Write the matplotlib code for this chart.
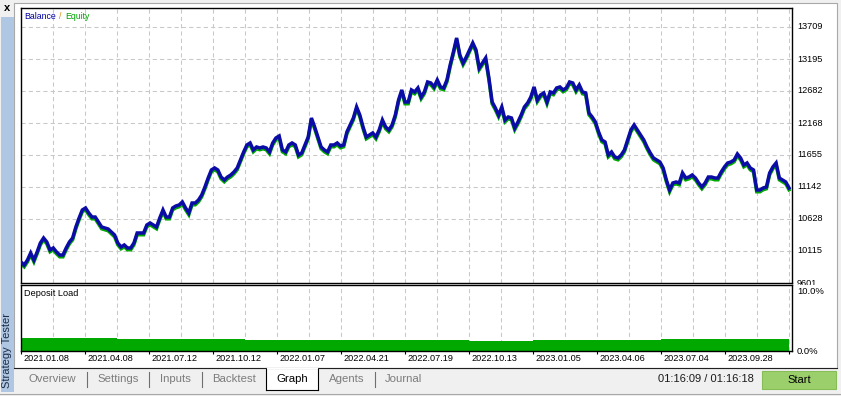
import matplotlib
matplotlib.use('Agg')
import matplotlib.pyplot as plt
import numpy as np
from matplotlib.patches import Rectangle
from matplotlib.lines import Line2D
import matplotlib.transforms as mtransforms

# ---------------- data ----------------
balance = [
    9938, 9890, 9970, 10083, 9970, 10099, 10243, 10323, 10259, 10131, 10163, 10099, 10050, 10050,
    10163, 10259, 10323, 10500, 10644, 10773, 10805, 10725, 10660, 10660, 10580, 10500, 10484, 10468,
    10420, 10371, 10243, 10179, 10211, 10163, 10163, 10243, 10404, 10404, 10404, 10532, 10564,
    10532, 10500, 10644, 10773, 10660, 10660, 10805, 10837, 10853, 10901, 10805, 10725, 10885, 10885,
    10933, 11013, 11142, 11286, 11415, 11447, 11415, 11302, 11254, 11302, 11334, 11383, 11447, 11575,
    11704, 11816, 11848, 11736, 11784, 11768, 11784, 11768, 11704, 11848, 11928, 11960,
    11736, 11704, 11816, 11848, 11816, 11655, 11688, 11816, 11944, 12249, 12105, 11944, 11784, 11736,
    11704, 11816, 11816, 11848, 11800, 11816, 12025, 12137, 12249, 12426, 12297, 12105, 11944, 11976,
    12009, 11944, 12057, 12217, 12105, 12057, 12137, 12297, 12538, 12699, 12506,
    12506, 12699, 12667, 12731, 12586, 12667, 12827, 12811, 12747, 12859, 12747, 12731, 12859, 13100,
    13309, 13533, 13260, 13132, 13228, 13341, 13453, 13341, 13052, 13132, 13212, 12891, 12506, 12410,
    12297, 12426, 12217, 12265, 12249, 12089, 12185, 12297, 12426, 12490, 12586, 12747, 12538,
    12618, 12651, 12506, 12667, 12651, 12731, 12747, 12699, 12731, 12827, 12811, 12699, 12779, 12667,
    12651, 12330, 12265, 12185, 12025, 11896, 11864, 11655, 11704, 11623, 11607, 11655, 11736, 11896,
    12057, 12137, 12057, 11976, 11896, 11784, 11688, 11607, 11575, 11543, 11447, 11254,
    11094, 11206, 11222, 11206, 11367, 11286, 11302, 11334, 11286, 11206, 11142, 11206, 11302, 11302,
    11286, 11286, 11383, 11463, 11527, 11543, 11575, 11671, 11607, 11495, 11527, 11447, 11415, 11094,
    11094, 11126, 11142, 11367, 11463, 11527, 11286, 11254, 11222, 11126,
]

deposit_load = [2.0, 1.95, 1.9, 1.85, 1.85, 1.75, 1.75, 1.65, 1.65, 1.7, 1.65, 1.6,
                1.65, 1.6, 1.5, 1.55, 1.65, 1.65, 1.7, 1.7, 1.8, 1.8, 1.8, 1.8]

y_tick_labels = ['9601', '10115', '10628', '11142', '11655', '12168', '12682', '13195', '13709']
x_tick_labels = ['2021.01.08', '2021.04.08', '2021.07.12', '2021.10.12', '2022.01.07', '2022.04.21',
                 '2022.07.19', '2022.10.13', '2023.01.05', '2023.04.06', '2023.07.04', '2023.09.28', '']
tab_names = ['Overview', 'Settings', 'Inputs', 'Backtest', 'Graph', 'Agents', 'Journal']
timer_text = '01:16:09 / 01:16:18'

# ---------------- layout ----------------
W, H = 841, 396
DPI = 100
plt.rcParams['font.family'] = ['Liberation Sans', 'DejaVu Sans']

fig = plt.figure(figsize=(W / DPI, H / DPI), dpi=DPI)
fig.patch.set_facecolor('#f0f0f0')


def fx(px):
    return px / W


def fy(py):
    return 1 - py / H


def frect(x0, y0, x1, y1, **kw):
    r = Rectangle((fx(x0), fy(y1)), (x1 - x0) / W, (y1 - y0) / H, transform=fig.transFigure, **kw)
    fig.patches.append(r)
    return r


def fline(x0, y0, x1, y1, **kw):
    l = Line2D([fx(x0), fx(x1)], [fy(y0), fy(y1)], transform=fig.transFigure, **kw)
    fig.lines.append(l)
    return l


# window chrome
frect(14, 3, 837, 368, facecolor='white', edgecolor='#a8a8a8', lw=0.8, zorder=-5)
frect(1, 17, 14, 392, facecolor='#afc7e3', edgecolor='none', zorder=-5)
fig.text(fx(7.5), fy(8), 'x', fontsize=8, fontweight='bold', ha='center', va='center')
fig.text(fx(7.5), fy(351), 'Strategy Tester', rotation=90, fontsize=8, color='#1d2b45',
         ha='center', va='center')

ax = fig.add_axes([fx(21), fy(283), (792 - 21) / W, (283 - 8) / H])
ax2 = fig.add_axes([fx(21), fy(351), (792 - 21) / W, (351 - 285) / H])

n = len(balance)
x = np.arange(n)
span = (n - 1) * 771 / 768
grid_kw = dict(color='#c8c8c8', lw=0.75, linestyle=(0, (4, 3)), zorder=0)

for a in (ax, ax2):
    a.set_xlim(0, span)
    a.set_facecolor('white')
    for s in a.spines.values():
        s.set_color('black')
        s.set_linewidth(1.0)
    for k in range(1, 25):
        a.axvline(k * (n - 1) / 24, **grid_kw)

y_vals = [float(v) for v in y_tick_labels]
ax.set_ylim(y_vals[0], y_vals[0] + (283 - 8) * (y_vals[-1] - y_vals[0]) / 256)
for v in y_vals[1:]:
    ax.axhline(v, **grid_kw)
ax.set_xticks([])
ax.set_yticks([])

# equity (green) peeking below balance (blue)
eq_tr = ax.transData + mtransforms.ScaledTranslation(0, -1.8 / DPI, fig.dpi_scale_trans)
ax.plot(x, balance, color='#00a800', lw=2.5, transform=eq_tr, solid_joinstyle='miter', zorder=2)
ax.plot(x, balance, color='#0b0ba6', lw=2.5, solid_joinstyle='miter', zorder=3)

# right-hand y labels
ylab_tr = mtransforms.blended_transform_factory(ax.transAxes, ax.transData)
for lab, v in zip(y_tick_labels, y_vals):
    if lab == y_tick_labels[0]:
        t = fig.text(fx(797), fy(284), lab, ha='left', va='center', fontsize=6.6, color='black')
        t.set_clip_on(True)
        t.set_clip_box(mtransforms.Bbox.from_extents(0, H - 285, W, H))
    else:
        ax.text(1 + 5 / 771, v, lab, transform=ylab_tr, ha='left', va='center', fontsize=6.6,
                color='black', clip_on=False)

# legend text
ax.text(3 / 771, 1 - 8.7 / 275, 'Balance', transform=ax.transAxes, color='#0000a0',
        fontsize=6.3, ha='left', va='center')
ax.text(38.3 / 771, 1 - 8.7 / 275, '/', transform=ax.transAxes, color='#e08a00',
        fontsize=6.3, ha='left', va='center')
ax.text(44.3 / 771, 1 - 8.7 / 275, 'Equity', transform=ax.transAxes, color='#00a000',
        fontsize=6.3, ha='left', va='center')

# deposit load panel
edges = np.linspace(0, n - 1, len(deposit_load) + 1)
ax2.stairs(deposit_load, edges, fill=True, color='#00a800', zorder=2)
ax2.set_ylim(0, 10)
ax2.set_yticks([])
tick_pos = [k * (n - 1) / 12 for k in range(len(x_tick_labels))]
ax2.set_xticks(tick_pos)
ax2.tick_params(axis='x', direction='out', length=2.2, width=0.8, labelbottom=False)
ax2.text(3 / 771, 1 - 8.7 / 66, 'Deposit Load', transform=ax2.transAxes, color='black',
         fontsize=6.6, ha='left', va='center')
ax2.text(1 + 5 / 771, (351 - 292) / 66, '10.0%', transform=ax2.transAxes, ha='left', va='center',
         fontsize=6.8)
ax2.text(1 + 5 / 771, -1 / 66, '0.0%', transform=ax2.transAxes, ha='left', va='center',
         fontsize=6.8)
xlab_tr = mtransforms.offset_copy(mtransforms.blended_transform_factory(ax2.transData, ax2.transAxes),
                                  fig=fig, x=2, y=-7.5, units='dots')
for p, lab in zip(tick_pos, x_tick_labels):
    ax2.text(p, 0, lab, transform=xlab_tr, ha='left', va='center', fontsize=6.6, clip_on=False)

# tabs row
fline(14, 368, 837, 368, color='#202020', lw=0.8)
frect(266, 368, 318, 390, facecolor='white', edgecolor='none', zorder=1)
fline(266, 368, 266, 390, color='black', lw=0.8)
fline(318, 368, 318, 390, color='black', lw=0.8)
fline(266, 390, 318, 390, color='black', lw=0.8)
fline(266.6, 368, 317.4, 368, color='white', lw=1.0)
tab_centers = [52.5, 118, 175.5, 234, 292, 346.5, 403.5]
for name, cx in zip(tab_names, tab_centers):
    fig.text(fx(cx), fy(378.5), name, ha='center', va='center', fontsize=8.2,
             color='black' if name == 'Graph' else '#7c7c7c')
for sx in (87, 149, 202, 375):
    fline(sx, 372, sx, 387, color='#707070', lw=0.8)

fig.text(fx(658), fy(379.5), timer_text, ha='left', va='center', fontsize=8, color='#1a1a1a')
frect(762, 371, 836, 389, facecolor='#9bcf6b', edgecolor='#86bd57', lw=0.8, zorder=1)
fig.text(fx(799), fy(380), 'Start', ha='center', va='center', fontsize=8, color='black')
fline(0, 393.5, 841, 393.5, color='#a8a8a8', lw=0.8)

fig.savefig('out.png', dpi=DPI, facecolor=fig.get_facecolor())
